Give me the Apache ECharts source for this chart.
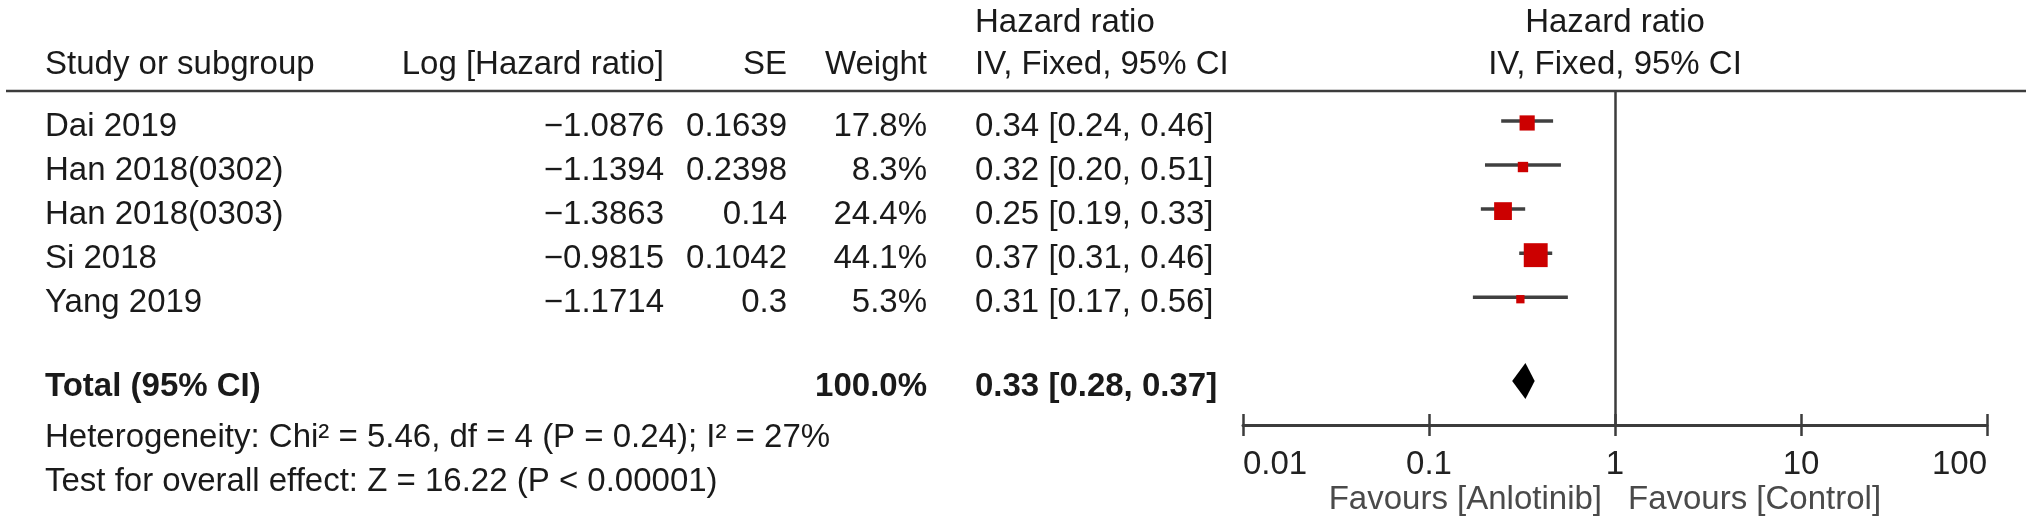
<!DOCTYPE html>
<html><head><meta charset="utf-8">
<script src="https://cdn.jsdelivr.net/npm/echarts@6/dist/echarts.min.js"></script>
<style>html,body{margin:0;padding:0;background:#fff}#c{width:2032px;height:531px}</style>
</head><body><div id="c"></div>
<script>
// ---- data ----
const studies = ['Dai 2019', 'Han 2018(0302)', 'Han 2018(0303)', 'Si 2018', 'Yang 2019'];
const logHR = [-1.0876, -1.1394, -1.3863, -0.9815, -1.1714];
const seVals = [0.1639, 0.2398, 0.14, 0.1042, 0.3];
const weights = [17.8, 8.3, 24.4, 44.1, 5.3];
const hrText = ['0.34 [0.24, 0.46]', '0.32 [0.20, 0.51]', '0.25 [0.19, 0.33]', '0.37 [0.31, 0.46]', '0.31 [0.17, 0.56]'];
const totalLabel = 'Total (95% CI)';
const totalWeightText = '100.0%';
const totalHR = [0.33, 0.28, 0.37];
const totalText = '0.33 [0.28, 0.37]';
const tickValues = [0.01, 0.1, 1, 10, 100];
const tickLabels = ['0.01', '0.1', '1', '10', '100'];
const headers = ['Study or subgroup', 'Log [Hazard ratio]', 'SE', 'Weight', 'Hazard ratio', 'IV, Fixed, 95% CI'];
const heterogeneity = 'Heterogeneity: Chi\u00b2 = 5.46, df = 4 (P = 0.24); I\u00b2 = 27%';
const overall = 'Test for overall effect: Z = 16.22 (P < 0.00001)';
const favourLeft = 'Favours [Anlotinib]';
const favourRight = 'Favours [Control]';

// ---- layout ----
const FONT = '"Liberation Sans", Arial, Helvetica, sans-serif';
const FS = 33;
const TOTAL_ROW = 5.9;
const TXT_OFF = 6;
const LINE_COL = '#3c3c3c';

const chart = echarts.init(document.getElementById('c'));
const ciData = logHR.map((v, i) => [Math.exp(v - 1.96 * seVals[i]), Math.exp(v + 1.96 * seVals[i]), i]);
const ptData = logHR.map((v, i) => [Math.exp(v), i, weights[i]]);

function nearestLabel(v) {
  let best = 0, bd = Infinity;
  tickValues.forEach((t, i) => { const d = Math.abs(Math.log10(v) - Math.log10(t)); if (d < bd) { bd = d; best = i; } });
  return bd < 1e-6 ? tickLabels[best] : '';
}

chart.setOption({
  animation: false,
  grid: { left: 1243, right: 45, top: 91, bottom: 106 },
  xAxis: [{
    type: 'log', logBase: 10, min: 0.01, max: 100, position: 'bottom',
    axisLine: { show: true, onZero: false, lineStyle: { color: LINE_COL, width: 3 } },
    axisTick: { show: true, length: 11, lineStyle: { color: LINE_COL, width: 2.5 } },
    axisLabel: { show: true, fontSize: FS, fontFamily: FONT, color: '#222', margin: 23,
      alignMinLabel: 'left', alignMaxLabel: 'right', formatter: nearestLabel },
    splitLine: { show: false }, minorTick: { show: false }
  }, {
    type: 'log', logBase: 10, min: 0.01, max: 100, position: 'bottom',
    axisLine: { show: false, onZero: false },
    axisTick: { show: true, inside: true, length: 11, lineStyle: { color: LINE_COL, width: 2.5 } },
    axisLabel: { show: false }, splitLine: { show: false }
  }],
  yAxis: { type: 'value', inverse: true, min: -0.68, max: 6.9, show: false },
  series: [{
    type: 'custom', xAxisIndex: 0, data: ciData, encode: { x: [0, 1], y: 2 }, z: 2,
    renderItem: (p, api) => {
      const a = api.coord([api.value(0), api.value(2)]);
      const b = api.coord([api.value(1), api.value(2)]);
      return { type: 'line', shape: { x1: a[0], y1: a[1], x2: b[0], y2: b[1] }, style: { stroke: '#404040', lineWidth: 3.5 } };
    }
  }, {
    type: 'scatter', xAxisIndex: 0, data: ptData, symbol: 'rect', z: 3,
    symbolSize: v => Math.sqrt(v[2]) * 3.6,
    symbolOffset: [0, 2],
    itemStyle: { color: '#cc0000', opacity: 1 },
    markLine: { silent: true, symbol: 'none', label: { show: false },
      lineStyle: { color: LINE_COL, width: 2.5, type: 'solid' }, data: [{ xAxis: 1 }] }
  }, {
    type: 'custom', xAxisIndex: 0, data: [[totalHR[1], totalHR[2], totalHR[0], TOTAL_ROW]], encode: { x: [0, 1, 2], y: 3 }, z: 3,
    renderItem: (p, api) => {
      const l = api.coord([api.value(0), api.value(3)]);
      const r = api.coord([api.value(1), api.value(3)]);
      const m = api.coord([api.value(2), api.value(3)]);
      const h = 18;
      return { type: 'polygon', shape: { points: [[l[0], l[1]], [m[0], m[1] - h], [r[0], r[1]], [m[0], m[1] + h]] }, style: { fill: '#000' } };
    }
  }]
});

const rowY = i => chart.convertToPixel({ yAxisIndex: 0 }, i);
const x1 = chart.convertToPixel({ xAxisIndex: 0 }, 1);
const g = [];
function txt(text, x, y, align, opts) {
  g.push({ type: 'text', x: x, y: y, silent: true, style: Object.assign({
    text: text, fill: '#1a1a1a', font: (opts && opts.bold ? 'bold ' : '') + FS + 'px ' + FONT,
    textAlign: align, textVerticalAlign: 'middle' }, opts && opts.fill ? { fill: opts.fill } : {}) });
}
// headers
txt(headers[0], 45, 65, 'left');
txt(headers[1], 664, 65, 'right');
txt(headers[2], 787, 65, 'right');
txt(headers[3], 927, 65, 'right');
txt(headers[4], 975, 23, 'left');
txt(headers[5], 975, 65, 'left');
txt(headers[4], x1, 23, 'center');
txt(headers[5], x1, 65, 'center');
g.push({ type: 'line', silent: true, shape: { x1: 6, y1: 91, x2: 2026, y2: 91 }, style: { stroke: LINE_COL, lineWidth: 2.5 } });
// rows
studies.forEach((s, i) => {
  const y = rowY(i) + TXT_OFF;
  txt(s, 45, y, 'left');
  txt(String(logHR[i]).replace('-', '\u2212'), 664, y, 'right');
  txt(String(seVals[i]), 787, y, 'right');
  txt(weights[i].toFixed(1) + '%', 927, y, 'right');
  txt(hrText[i], 975, y, 'left');
});
const ty = rowY(TOTAL_ROW) + TXT_OFF;
txt(totalLabel, 45, ty, 'left', { bold: true });
txt(totalWeightText, 927, ty, 'right', { bold: true });
txt(totalText, 975, ty, 'left', { bold: true });
txt(heterogeneity, 45, 438, 'left');
txt(overall, 45, 482, 'left');
txt(favourLeft, x1 - 13, 500, 'right', { fill: '#4a4a4a' });
txt(favourRight, x1 + 13, 500, 'left', { fill: '#4a4a4a' });
chart.setOption({ graphic: g });
</script></body></html>
